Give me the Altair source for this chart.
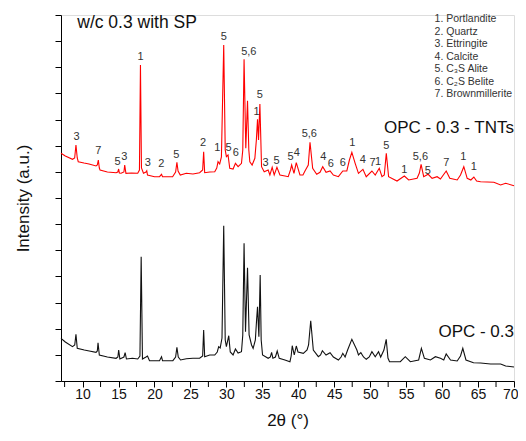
import altair as alt
import pandas as pd

# XRD patterns: (2θ in degrees, intensity in a.u.)
tnt_points = [
    (7.0, 227.7), (7.6, 225), (8.6, 221.7), (8.9, 223), (9.08, 236), (9.26, 223), (9.4, 219.3),
    (10.2, 218), (10.9, 217), (11.87, 215), (12.05, 216), (12.19, 221), (12.33, 213), (12.43, 211),
    (13.45, 209), (14.66, 208.3), (14.9, 209), (15.02, 212), (15.12, 208), (15.36, 207.7),
    (15.75, 209), (15.86, 216), (16.03, 207.7), (16.8, 208), (17.67, 207.7), (17.91, 211),
    (18.05, 316), (18.19, 213), (18.47, 207.7), (18.82, 209), (18.93, 210.3), (19.03, 206),
    (20.0, 204.3), (20.7, 204.3), (20.98, 206.7), (21.12, 204.3), (22.52, 204.3), (22.94, 209),
    (23.12, 218.7), (23.28, 210), (23.59, 206), (24.43, 207.7), (25.35, 207), (26.28, 208.3),
    (26.7, 211), (26.84, 229.3), (26.98, 208.3), (27.68, 209), (28.38, 209.3), (28.66, 213),
    (28.84, 219.3), (29.07, 217), (29.31, 224), (29.63, 336), (29.84, 231), (30.0, 224.3),
    (30.23, 226), (30.47, 212.7), (30.93, 212), (31.26, 217.7), (31.63, 214.3), (32.1, 217.7),
    (32.28, 231), (32.46, 321.7), (32.7, 232.7), (32.94, 280.3), (33.12, 231), (33.26, 219.3),
    (33.58, 216), (33.96, 222.7), (34.17, 241), (34.33, 261.7), (34.47, 241), (34.66, 277),
    (34.89, 214.3), (35.26, 209.3), (35.81, 211), (36.05, 206), (36.37, 213.7), (36.65, 206),
    (37.03, 213.7), (37.45, 206), (38.15, 205), (38.6, 204.3), (38.91, 211), (39.08, 216),
    (39.4, 207.7), (39.72, 218.3), (40.23, 206), (40.65, 206), (40.93, 210), (41.39, 216),
    (41.63, 238.7), (42.0, 212.7), (42.56, 206.7), (43.02, 208.7), (43.4, 214.3), (43.86, 208.7),
    (44.42, 210), (44.88, 206), (45.58, 204.3), (46.19, 210), (46.75, 210), (47.11, 221),
    (47.45, 228.7), (47.91, 217.7), (48.37, 207.7), (48.99, 211.7), (49.45, 204.3), (50.24, 210),
    (50.7, 206), (51.26, 212.7), (51.64, 204.3), (51.96, 206), (52.24, 227.7), (52.56, 204.3),
    (53.73, 200), (54.75, 205), (55.35, 201), (56.52, 202.7), (56.84, 208), (57.08, 216.7),
    (57.44, 204.3), (58.06, 206.7), (58.61, 202.7), (59.31, 204.3), (59.77, 202), (60.57, 210),
    (61.07, 202.7), (62.1, 201), (62.56, 206), (63.02, 214.3), (63.49, 202.7), (64.0, 201),
    (64.42, 204), (64.8, 200), (65.35, 199.3), (67.2, 198.7), (68.14, 196), (68.84, 197.7),
    (70.0, 195.3),
]

opc_points = [
    (7.0, 42.7), (7.6, 39), (8.6, 34.3), (8.91, 36), (9.08, 46.7), (9.26, 32.7), (10.24, 31),
    (10.93, 30), (11.87, 28.7), (12.05, 30), (12.15, 38.3), (12.33, 26), (13.45, 24), (14.66, 22.7),
    (14.91, 24), (15.02, 31), (15.19, 22), (15.75, 24), (15.92, 28.3), (16.1, 22), (16.94, 22.7),
    (17.67, 22), (17.98, 25), (18.15, 124.3), (18.33, 22), (18.82, 24), (19.03, 25), (19.31, 20.3),
    (20.7, 20.3), (20.98, 24.3), (21.12, 20.3), (22.56, 20.3), (22.94, 24), (23.12, 33.7),
    (23.31, 24), (23.63, 21), (24.43, 22.3), (25.35, 22.7), (26.28, 22.7), (26.7, 25), (26.84, 51),
    (26.98, 24.3), (27.68, 26), (28.38, 26), (28.73, 29), (28.93, 34.3), (29.14, 33), (29.39, 43),
    (29.63, 155.3), (29.84, 41), (30.0, 34.3), (30.33, 45.3), (30.54, 29), (30.93, 26),
    (31.26, 32), (31.63, 28), (32.1, 29.3), (32.28, 46), (32.46, 137.7), (32.66, 49.3),
    (32.94, 113.3), (33.16, 46), (33.5, 36), (33.72, 32.7), (34.03, 41), (34.2, 61), (34.33, 74.3),
    (34.52, 44.3), (34.7, 106), (34.84, 41), (35.03, 26), (35.81, 22.7), (36.12, 24), (36.29, 28.7),
    (36.47, 22.7), (36.82, 24), (37.07, 30), (37.35, 22.7), (38.14, 21), (38.84, 19.3), (39.01, 25),
    (39.16, 35.3), (39.44, 26), (39.72, 35), (39.96, 29), (40.7, 27.7), (41.22, 31), (41.43, 36),
    (41.73, 60.3), (42.09, 31), (42.79, 24.3), (43.1, 26), (43.35, 30.3), (43.86, 26), (44.42, 28.3),
    (44.88, 24), (45.58, 21), (45.95, 24), (46.19, 27.7), (46.51, 24), (46.86, 31), (47.45, 41.7),
    (48.15, 31), (48.37, 26), (48.7, 28.3), (49.07, 24), (49.45, 21.7), (49.87, 24), (50.24, 29.3),
    (50.7, 24.3), (51.16, 29.3), (51.46, 24), (51.91, 31), (52.23, 41.7), (52.47, 23), (52.69, 19.3),
    (54.19, 19.3), (54.88, 24.3), (55.58, 19.3), (56.74, 21), (57.12, 32.7), (57.54, 22.7),
    (58.38, 21), (59.07, 24.3), (59.77, 22.7), (60.23, 21), (60.57, 27), (61.17, 21), (62.1, 20),
    (62.56, 25), (62.88, 32.7), (63.32, 21), (64.37, 18.3), (65.35, 18), (66.74, 17), (68.14, 17),
    (68.84, 15), (70.0, 14),
]

# Phase labels above the TNT pattern: (label, 2θ, intensity)
peak_labels = [
    ("3", 9.16, 244.3), ("7", 12.19, 230.3), ("5", 14.88, 219.3), ("3", 15.82, 224.3),
    ("1", 18.05, 324.3), ("3", 19.07, 217.7), ("2", 20.94, 216.7), ("5", 23.03, 226),
    ("2", 26.74, 238.3), ("1", 28.75, 232.7), ("5", 29.63, 344.3), ("5", 30.29, 233.3),
    ("6", 31.31, 227.7), ("5,6", 33.12, 329.3), ("1", 34.19, 269.3), ("5", 34.65, 286),
    ("3", 35.45, 217.7), ("5", 36.98, 220.3), ("5", 38.94, 223.7), ("4", 39.78, 227.7),
    ("5,6", 41.53, 246.7), ("4", 43.49, 224.3), ("6", 44.52, 217), ("6", 46.19, 217.7),
    ("1", 47.53, 237.7), ("4", 48.98, 221), ("7", 50.32, 217.7), ("1", 51.08, 219.3),
    ("5", 52.24, 235.3), ("1", 54.75, 211), ("5,6", 56.98, 224.3), ("5", 58.0, 210.3),
    ("7", 60.57, 218.3), ("1", 62.94, 224.3), ("1", 64.42, 213.7),
]

phase_names = ["1. Portlandite", "2. Quartz", "3. Ettringite", "4. Calcite",
               "5. C₃S Alite", "6. C₂S Belite", "7. Brownmillerite"]
phase_y = [362, 349.5, 337, 324.5, 312, 299.5, 287]
phase_x = 58.95

sample_names = ["OPC - 0.3 - TNTs", "OPC - 0.3"]
sample_y = [253, 49]
sample_x = 70.0

heading = "w/c 0.3 with SP"
heading_x, heading_y = 9.26, 358

x_major = [10, 15, 20, 25, 30, 35, 40, 45, 50, 55, 60, 65, 70]
x_minor = [7.5, 12.5, 17.5, 22.5, 27.5, 32.5, 37.5, 42.5, 47.5, 52.5, 57.5, 62.5, 67.5]
y_max = 366
y_ticks = [y_max / 14 * i for i in range(15)]

FONT = "Liberation Sans"

tnt_df = pd.DataFrame(tnt_points, columns=["x", "y"])
opc_df = pd.DataFrame(opc_points, columns=["x", "y"])
lab_df = pd.DataFrame(peak_labels, columns=["t", "x", "y"])
phase_df = pd.DataFrame({"t": phase_names, "x": [phase_x] * len(phase_names), "y": phase_y})
sample_df = pd.DataFrame({"t": sample_names, "x": [sample_x] * 2, "y": sample_y})
head_df = pd.DataFrame({"t": [heading], "x": [heading_x], "y": [heading_y]})
minor_df = pd.DataFrame({"x": x_minor})

xscale = alt.Scale(domain=[7, 70], nice=False, zero=False)
yscale = alt.Scale(domain=[0, y_max], nice=False, zero=True)

xenc = alt.X("x:Q", scale=xscale, axis=alt.Axis(
    title="2θ (°)", values=x_major, grid=False, format="d",
    labelOverlap=False, labelFlush=True, labelFlushOffset=4,
    tickSize=6, labelFontSize=14, titleFontSize=17, titleFontWeight="normal",
    labelPadding=0, titlePadding=11, labelFont=FONT, titleFont=FONT,
    domainColor="black", tickColor="black", labelColor="#111", titleColor="#111"))
yenc = alt.Y("y:Q", scale=yscale, axis=alt.Axis(
    title="Intensity (a.u.)", values=y_ticks, labels=False, grid=False, tickSize=6,
    titleFontSize=17, titleFontWeight="normal", titlePadding=22, titleFont=FONT,
    domainColor="black", tickColor="black", titleColor="#111"))

black = alt.Chart(opc_df).mark_line(color="#111111", strokeWidth=1.1).encode(x=xenc, y=yenc, order="x:Q")
red = alt.Chart(tnt_df).mark_line(color="#ff0000", strokeWidth=1.1).encode(x=xenc, y=yenc, order="x:Q")

minor = alt.Chart(minor_df).mark_rule(color="black", strokeWidth=1).encode(
    x=xenc, y=alt.value(366), y2=alt.value(372))

peaks = alt.Chart(lab_df).mark_text(font=FONT, fontSize=11, color="#333", baseline="middle").encode(
    x=xenc, y=yenc, text="t:N")
phases = alt.Chart(phase_df).mark_text(font=FONT, fontSize=10.5, color="#333", align="left",
                                       baseline="middle").encode(x=xenc, y=yenc, text="t:N")
samples = alt.Chart(sample_df).mark_text(font=FONT, fontSize=17, color="#111", align="right",
                                         baseline="middle").encode(x=xenc, y=yenc, text="t:N")
head = alt.Chart(head_df).mark_text(font=FONT, fontSize=17.5, color="#111", align="left",
                                    baseline="middle").encode(x=xenc, y=yenc, text="t:N")

chart = alt.layer(black, red, minor, peaks, phases, samples, head).properties(
    width=453, height=366,
    autosize=alt.AutoSizeParams(type="none"),
    padding={"left": 53, "top": 7, "right": 4, "bottom": 52},
).configure_view(stroke=None).configure(background="white")

chart.save("out.html", embed_options={"renderer": "svg", "actions": False})
